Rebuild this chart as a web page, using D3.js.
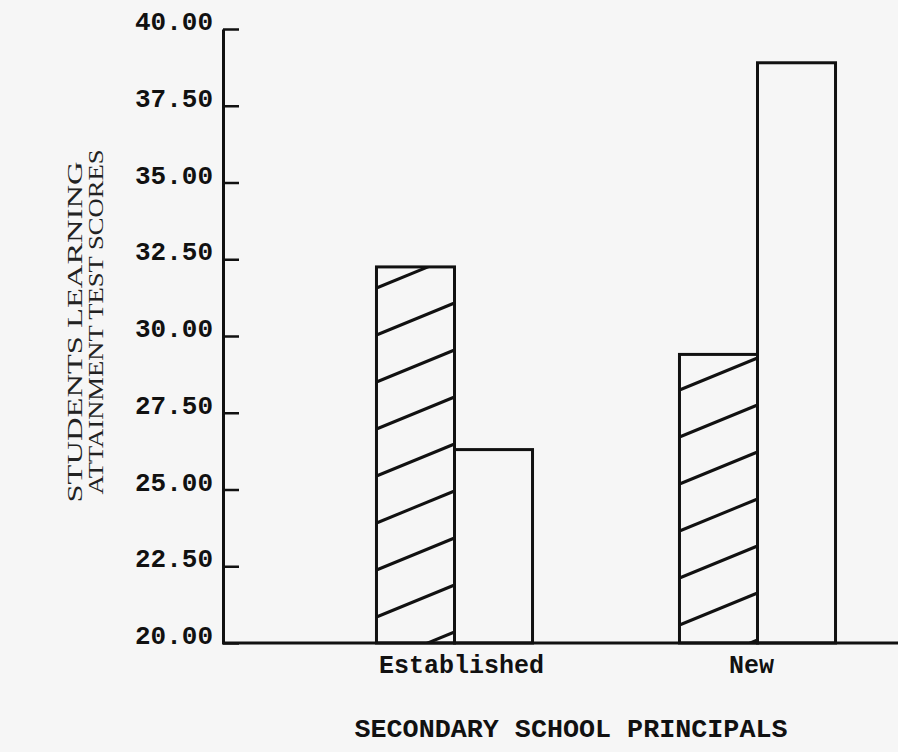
<!DOCTYPE html>
<html>
<head>
<meta charset="utf-8">
<script src="https://cdn.jsdelivr.net/npm/d3@7"></script>
<style>
  html, body { margin: 0; padding: 0; background: #f6f6f6; }
  svg { display: block; }
</style>
</head>
<body>
<svg id="chart" width="898" height="752"></svg>
<script>
// ---- data ----
const categories = ["Established", "New"];
const seriesNames = ["hatched", "open"];
const hatchedValues = [32.25, 29.4];
const openValues = [26.3, 38.9];
const yTicks = [20, 22.5, 25, 27.5, 30, 32.5, 35, 37.5, 40];
const yTickLabels = ["20.00", "22.50", "25.00", "27.50", "30.00", "32.50", "35.00", "37.50", "40.00"];
const yTitleLines = ["STUDENTS LEARNING", "ATTAINMENT TEST SCORES"];
const xTitle = "SECONDARY SCHOOL PRINCIPALS";

// ---- styles ----
const ink = "#111";
const hatchPhase = { Established: 26, New: 18 };
const hatchSpacing = 47, hatchRise = 32;

const svg = d3.select("#chart");
svg.append("rect").attr("width", 898).attr("height", 752).attr("fill", "#f6f6f6");

const y = d3.scaleLinear().domain([20, 40]).range([643, 29]);
const x0 = d3.scaleBand().domain(categories).range([303, 909])
  .paddingInner(0.485).paddingOuter(0.2425);
const x1 = d3.scaleBand().domain(seriesNames).range([0, x0.bandwidth()]);

const axisX = 223;

// bars data
const bars = [];
categories.forEach((c, i) => {
  bars.push({ cat: c, series: "hatched", value: hatchedValues[i] });
  bars.push({ cat: c, series: "open", value: openValues[i] });
});

const defs = svg.append("defs");
const gBars = svg.append("g");

bars.forEach((b, i) => {
  const bx = x0(b.cat) + x1(b.series);
  const bw = x1.bandwidth();
  const top = y(b.value);
  const base = y(20);
  if (b.series === "hatched") {
    const id = "clip" + i;
    defs.append("clipPath").attr("id", id)
      .append("rect").attr("x", bx).attr("y", top).attr("width", bw).attr("height", base - top);
    const g = gBars.append("g").attr("clip-path", `url(#${id})`);
    const lines = [];
    for (let yl = base - hatchPhase[b.cat] + hatchSpacing; yl - hatchRise > top - hatchSpacing; yl -= hatchSpacing) {
      lines.push(yl);
    }
    g.selectAll("line").data(lines).join("line")
      .attr("x1", bx).attr("x2", bx + bw)
      .attr("y1", d => d).attr("y2", d => d - hatchRise)
      .attr("stroke", ink).attr("stroke-width", 3);
  }
  gBars.append("rect")
    .attr("x", bx).attr("y", top).attr("width", bw).attr("height", base - top)
    .attr("fill", "none").attr("stroke", ink).attr("stroke-width", 3);
});

// y axis
const yAxis = d3.axisRight(y).tickValues(yTicks).tickSize(16).tickSizeOuter(0).tickFormat("");
const gy = svg.append("g").attr("transform", `translate(${axisX},0)`).call(yAxis);
gy.select(".domain").attr("stroke", ink).attr("stroke-width", 3);
gy.selectAll(".tick line").attr("stroke", ink).attr("stroke-width", 2.5);

// x axis baseline
const xAxis = d3.axisBottom(x0).tickSize(0).tickFormat("");
const gx = svg.append("g").attr("transform", `translate(0,${y(20)})`).call(xAxis);
gx.select(".domain").attr("d", `M${axisX - 1},0H898`).attr("stroke", ink).attr("stroke-width", 3);

// y tick labels
svg.append("g").selectAll("text").data(yTicks).join("text")
  .attr("x", 213).attr("y", d => y(d) + 1)
  .attr("text-anchor", "end")
  .attr("textLength", 78).attr("lengthAdjust", "spacingAndGlyphs")
  .attr("font-family", "'Liberation Mono', 'DejaVu Sans Mono', monospace")
  .attr("font-weight", "bold").attr("font-size", 25).attr("fill", ink)
  .text((d, i) => yTickLabels[i]);

// category labels
svg.append("g").selectAll("text").data(categories).join("text")
  .attr("x", d => x0(d) + x0.bandwidth() / 2 + (d === "New" ? -6 : 7))
  .attr("y", 673)
  .attr("text-anchor", "middle")
  .attr("font-family", "'Liberation Mono', 'DejaVu Sans Mono', monospace")
  .attr("font-weight", "bold").attr("font-size", 25).attr("fill", ink)
  .text(d => d);

// x title
svg.append("text")
  .attr("x", 571).attr("y", 737).attr("text-anchor", "middle")
  .attr("textLength", 433).attr("lengthAdjust", "spacingAndGlyphs")
  .attr("font-family", "'Liberation Mono', 'DejaVu Sans Mono', monospace")
  .attr("font-weight", "bold").attr("font-size", 25).attr("fill", ink)
  .text(xTitle);

// y title
const yTitlePos = [{ x: 82, cy: 332, len: 341 }, { x: 103, cy: 322, len: 345 }];
yTitleLines.forEach((t, i) => {
  const p = yTitlePos[i];
  svg.append("text")
    .attr("transform", `translate(${p.x},${p.cy}) rotate(-90)`)
    .attr("text-anchor", "middle")
    .attr("textLength", p.len).attr("lengthAdjust", "spacingAndGlyphs")
    .attr("font-family", "'Liberation Serif', 'DejaVu Serif', serif")
    .attr("font-size", 21).attr("fill", "#222")
    .text(t);
});
</script>
</body>
</html>
